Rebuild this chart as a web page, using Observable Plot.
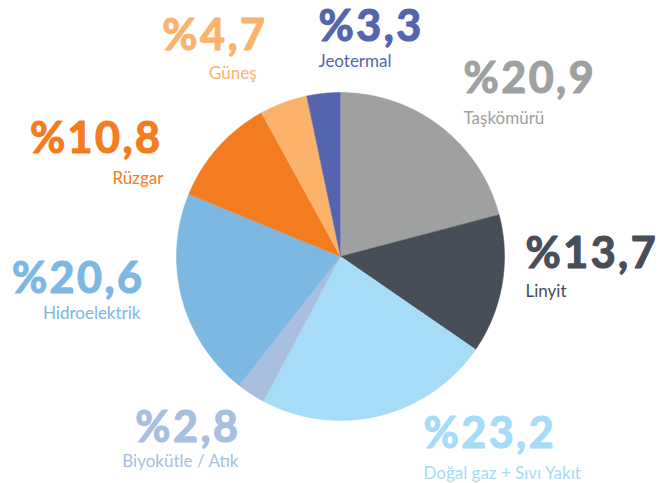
<!DOCTYPE html>
<html>
<head>
<meta charset="utf-8">
<script src="https://cdn.jsdelivr.net/npm/d3@7"></script>
<script src="https://cdn.jsdelivr.net/npm/@observablehq/plot@0.6"></script>
<style>
  html, body { margin: 0; padding: 0; background: #ffffff; }
  #chart svg { display: block; }
</style>
</head>
<body>
<div id="chart"></div>
<script>
// ---- data ----
const labels = ["Taşkömürü", "Linyit", "Doğal gaz + Sıvı Yakıt", "Biyokütle / Atık", "Hidroelektrik", "Rüzgar", "Güneş", "Jeotermal"];
const values = [20.9, 13.7, 23.2, 2.8, 20.6, 10.8, 4.7, 3.3];
const valueTexts = ["%20,9", "%13,7", "%23,2", "%2,8", "%20,6", "%10,8", "%4,7", "%3,3"];
const colors = ["#9fa0a0", "#474e57", "#a6dcf7", "#a9bfdf", "#7db8e3", "#f47c20", "#fbb36c", "#5564ae"];

// ---- layout (pixels) ----
const W = 669, H = 483;
const cx = 340, cy = 256, R = 164;
// label anchors: [valueX, valueY, nameX, nameY, anchor]
const labelLayout = [
  [463, 79, 463, 118, "start"],
  [525, 254, 525, 291.5, "start"],
  [423, 434, 423, 473, "start"],
  [240, 427.5, 238, 461.5, "end"],
  [144, 279, 140, 313, "end"],
  [162, 139, 163, 178.5, "end"],
  [267, 36, 256, 73.5, "end"],
  [318, 27, 318, 61, "start"]
];

const data = labels.map((label, i) => ({label, value: values[i], text: valueTexts[i], color: colors[i]}));
const arcs = d3.pie().sort(null).value(d => d.value)(data);

// polygon points for each slice
const pts = [];
arcs.forEach(a => {
  const label = a.data.label;
  pts.push({label, x: cx, y: cy});
  const n = Math.max(2, Math.ceil((a.endAngle - a.startAngle) / (Math.PI / 360)));
  for (let k = 0; k <= n; k++) {
    const t = a.startAngle + (a.endAngle - a.startAngle) * k / n;
    pts.push({label, x: cx + R * Math.sin(t), y: cy - R * Math.cos(t)});
  }
});

const valueLabels = data.map((d, i) => ({...d, x: labelLayout[i][0], y: labelLayout[i][1], anchor: labelLayout[i][4]}));
const nameLabels = data.map((d, i) => ({...d, x: labelLayout[i][2], y: labelLayout[i][3], anchor: labelLayout[i][4]}));

const textMarks = [];
for (const anchor of ["start", "end"]) {
  textMarks.push(Plot.text(valueLabels.filter(d => d.anchor === anchor), {
    x: "x", y: "y", text: "text", fill: "label", stroke: "label", strokeWidth: 1.2,
    textAnchor: anchor, lineAnchor: "middle",
    fontSize: 43, fontWeight: "bold"
  }));
  textMarks.push(Plot.text(nameLabels.filter(d => d.anchor === anchor), {
    x: "x", y: "y", text: "label", fill: "label", textAnchor: anchor, lineAnchor: "middle",
    fontSize: 17
  }));
}

const chart = Plot.plot({
  width: W,
  height: H,
  margin: 0,
  style: {fontFamily: "Lato, 'Open Sans', sans-serif", background: "#ffffff"},
  x: {domain: [0, W], range: [0, W], axis: null},
  y: {domain: [0, H], range: [0, H], axis: null},
  color: {domain: labels, range: colors},
  marks: [
    Plot.line(pts, {x: "x", y: "y", z: "label", fill: "label", stroke: "label", strokeWidth: 0.5, curve: "linear"}),
    ...textMarks
  ]
});
chart.querySelectorAll('g[font-size="43"]').forEach(g => g.setAttribute("letter-spacing", "2.5"));
document.getElementById("chart").appendChild(chart);
</script>
</body>
</html>
